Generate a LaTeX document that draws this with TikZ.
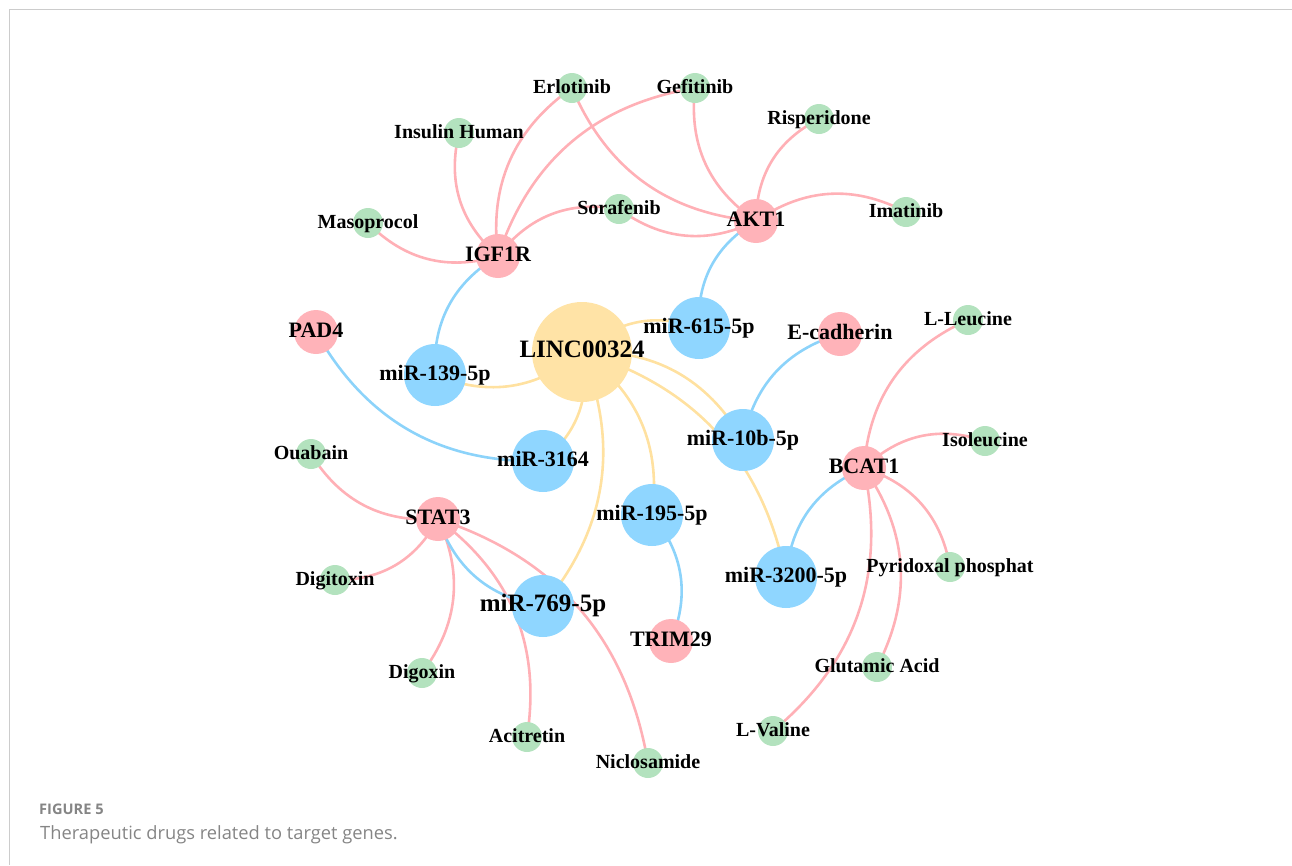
\documentclass[tikz,border=0pt]{standalone}
\usepackage{fontspec}
\setmainfont{Liberation Serif}
\newfontfamily\capfont{Open Sans}
\usetikzlibrary{backgrounds}
\definecolor{drugc}{HTML}{B3E2BE}
\definecolor{genec}{HTML}{FFB3B9}
\definecolor{mirc}{HTML}{8FD6FF}
\definecolor{lncc}{HTML}{FFE3A6}
\definecolor{pinkedge}{HTML}{FFB0B6}
\definecolor{blueedge}{HTML}{8CD3FA}
\definecolor{yelledge}{HTML}{FFE1A0}
\definecolor{framec}{HTML}{CCCCCC}
\definecolor{capc}{HTML}{858585}
\tikzset{
  dot/.style={circle, inner sep=0pt, draw=none},
  drug/.style={dot, fill=drugc, minimum size=30pt},
  gene/.style={dot, fill=genec, minimum size=44pt},
  mirna/.style={dot, fill=mirc, minimum size=62pt},
  lnc/.style={dot, fill=lncc, minimum size=100pt},
  lbl/.style={inner sep=0pt, yshift=-2.5pt, text height=0.68em, text depth=0pt, font=\bfseries\fontsize{20}{24}\selectfont},
  lblg/.style={lbl, font=\bfseries\fontsize{22}{26}\selectfont},
  lblb/.style={lbl, font=\bfseries\fontsize{25}{30}\selectfont},
  link/.style={line width=2.6pt, bend left=31},
  pe/.style={link, draw=pinkedge},
  be/.style={link, draw=blueedge},
  ye/.style={link, draw=yelledge},
}
\begin{document}
\begin{tikzpicture}[x=1pt,y=-1pt]
\useasboundingbox (0,0) rectangle (1292,865);
% frame
\coordinate (fTL) at (9.5,9.5);
\coordinate (fTR) at (1292,9.5);
\coordinate (fBL) at (9.5,865);
\draw[framec, line width=1.4pt] (fTR) -- (fTL) -- (fBL);

% lncRNA and miRNAs
\node[lnc] (lnc) at (582,352) {};
\node[mirna] (m139) at (435,375) {};
\node[mirna] (m615) at (699,328) {};
\node[mirna] (m3164) at (543,461) {};
\node[mirna] (m10b) at (743,440) {};
\node[mirna] (m195) at (652,515) {};
\node[mirna] (m3200) at (786,577) {};
\node[mirna] (m769) at (543,606) {};
% genes
\node[gene] (igf) at (498,256) {};
\node[gene] (akt) at (756,221) {};
\node[gene] (pad) at (316,332) {};
\node[gene] (ecad) at (840,334) {};
\node[gene] (bcat) at (864,468) {};
\node[gene] (stat) at (438,519) {};
\node[gene] (trim) at (671,641) {};
% drugs
\node[drug] (erl) at (572,88) {};
\node[drug] (gef) at (695,88) {};
\node[drug] (ins) at (459,133) {};
\node[drug] (maso) at (368,223) {};
\node[drug] (sor) at (619,209) {};
\node[drug] (ris) at (819,119) {};
\node[drug] (ima) at (906,212) {};
\node[drug] (leu) at (968,320) {};
\node[drug] (iso) at (985,441) {};
\node[drug] (pyr) at (950,567) {};
\node[drug] (glu) at (877,667) {};
\node[drug] (val) at (773,731) {};
\node[drug] (nic) at (648,763) {};
\node[drug] (aci) at (527,737) {};
\node[drug] (dgx) at (422,673) {};
\node[drug] (dgt) at (335,580) {};
\node[drug] (oua) at (311,454) {};

% connectors
\begin{scope}[on background layer]
\draw[ye] (lnc.center) to (m139.center);
\draw[ye] (lnc.center) to (m615.center);
\draw[ye] (lnc.center) to (m10b.center);
\draw[ye] (lnc.center) to (m3200.center);
\draw[ye] (lnc.center) to (m3164.center);
\draw[ye] (lnc.center) to (m195.center);
\draw[ye] (lnc.center) to (m769.center);
\draw[pe] (igf.center) to (maso.center);
\draw[pe] (igf.center) to (ins.center);
\draw[pe] (igf.center) to (erl.center);
\draw[pe] (igf.center) to (gef.center);
\draw[pe] (igf.center) to (sor.center);
\draw[pe] (akt.center) to (sor.center);
\draw[pe] (akt.center) to (erl.center);
\draw[pe] (akt.center) to (gef.center);
\draw[pe] (akt.center) to (ris.center);
\draw[pe] (akt.center) to (ima.center);
\draw[pe] (bcat.center) to (leu.center);
\draw[pe] (bcat.center) to (iso.center);
\draw[pe] (bcat.center) to (pyr.center);
\draw[pe] (bcat.center) to (glu.center);
\draw[pe] (bcat.center) to (val.center);
\draw[pe] (stat.center) to (oua.center);
\draw[pe] (stat.center) to (dgt.center);
\draw[pe] (stat.center) to (dgx.center);
\draw[pe] (stat.center) to (aci.center);
\draw[pe] (stat.center) to (nic.center);
\draw[be] (m139.center) to (igf.center);
\draw[be] (m615.center) to (akt.center);
\draw[be] (m3164.center) to (pad.center);
\draw[be] (m10b.center) to (ecad.center);
\draw[be] (m3200.center) to (bcat.center);
\draw[be] (m195.center) to (trim.center);
\draw[be] (m769.center) to (stat.center);
\end{scope}

% labels
\node[lblb] (lnc-t) at (lnc) {LINC00324};
\node[lblg] (m139-t) at (m139) {miR-139-5p};
\node[lblg] (m615-t) at (m615) {miR-615-5p};
\node[lblg] (m3164-t) at (m3164) {miR-3164};
\node[lblg] (m10b-t) at (m10b) {miR-10b-5p};
\node[lblg] (m195-t) at (m195) {miR-195-5p};
\node[lblg] (m3200-t) at (m3200) {miR-3200-5p};
\node[lblb] (m769-t) at (m769) {miR-769-5p};
\node[lblg] (igf-t) at (igf) {IGF1R};
\node[lblg] (akt-t) at (akt) {AKT1};
\node[lblg] (pad-t) at (pad) {PAD4};
\node[lblg] (ecad-t) at (ecad) {E-cadherin};
\node[lblg] (bcat-t) at (bcat) {BCAT1};
\node[lblg] (stat-t) at (stat) {STAT3};
\node[lblg] (trim-t) at (trim) {TRIM29};
\node[lbl] (erl-t) at (erl) {Erlotinib};
\node[lbl] (gef-t) at (gef) {Gefitinib};
\node[lbl] (ins-t) at (ins) {Insulin Human};
\node[lbl] (maso-t) at (maso) {Masoprocol};
\node[lbl] (sor-t) at (sor) {Sorafenib};
\node[lbl] (ris-t) at (ris) {Risperidone};
\node[lbl] (ima-t) at (ima) {Imatinib};
\node[lbl] (leu-t) at (leu) {L-Leucine};
\node[lbl] (iso-t) at (iso) {Isoleucine};
\node[lbl] (pyr-t) at (pyr) {Pyridoxal phosphat};
\node[lbl] (glu-t) at (glu) {Glutamic Acid};
\node[lbl] (val-t) at (val) {L-Valine};
\node[lbl] (nic-t) at (nic) {Niclosamide};
\node[lbl] (aci-t) at (aci) {Acitretin};
\node[lbl] (dgx-t) at (dgx) {Digoxin};
\node[lbl] (dgt-t) at (dgt) {Digitoxin};
\node[lbl] (oua-t) at (oua) {Ouabain};

% caption
\node[anchor=base west, inner sep=0pt, text=capc, font=\capfont\bfseries\fontsize{14.6}{17}\selectfont] (fig) at (39,814) {FIGURE 5};
\node[anchor=base west, inner sep=0pt, text=capc, font=\capfont\fontsize{18.3}{22}\selectfont] (cap) at (40,839) {Therapeutic drugs related to target genes.};
\end{tikzpicture}
\end{document}
